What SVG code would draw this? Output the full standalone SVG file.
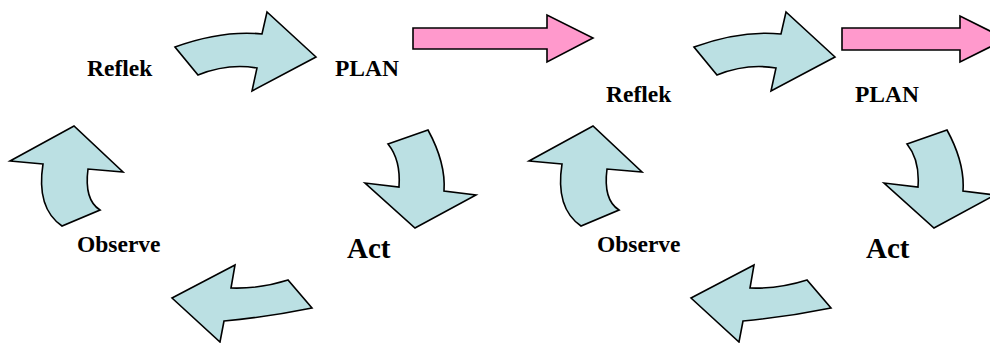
<svg xmlns="http://www.w3.org/2000/svg" xmlns:xlink="http://www.w3.org/1999/xlink" width="990" height="343" viewBox="0 0 990 343">
<style>
.lbl{font-family:"Liberation Serif","Times New Roman",serif;font-weight:bold;fill:#000;}
.s{font-size:23.5px;}
.b{font-size:29px;}
.cyc{fill:#BBE0E3;stroke:#000;stroke-width:1.6;stroke-linejoin:miter;}
.pink{fill:#FF99CC;stroke:#000;stroke-width:1.6;}
</style>
<defs>
<path id="aTop" d="M175,47 Q222,30 262,34 L267,12 L316,57 L252,91 L257,68 Q228,63 198,75 Z"/>
<path id="aUp" d="M43,164 L10,161 L74,126 L123,172 L88,169 Q84,200 100,210 L62,226 Q36,208 43,164 Z"/>
<path id="aDown" d="M388,144 L428,130 Q446,163 444,191 L476,195 L415,228 L365,183 L399,187 Q401,160 388,144 Z"/>
<path id="aBot" d="M172,298 L235,265 L231,288 Q260,289 288,280 L312,308 Q268,317 224,321 L220,342 Z"/>
</defs>
<g id="connectors">
<use xlink:href="#aTop" href="#aTop" class="cyc"/>
<use xlink:href="#aDown" href="#aDown" class="cyc"/>
<use xlink:href="#aBot" href="#aBot" class="cyc"/>
<use xlink:href="#aUp" href="#aUp" class="cyc"/>
<path class="pink" d="M413,28 L547,28 L547,15 L593,38 L547,62 L547,49 L413,49 Z"/>
<g transform="translate(519,0)">
<use xlink:href="#aTop" href="#aTop" class="cyc"/>
<use xlink:href="#aDown" href="#aDown" class="cyc"/>
<use xlink:href="#aBot" href="#aBot" class="cyc"/>
<use xlink:href="#aUp" href="#aUp" class="cyc"/>
</g>
<path class="pink" d="M842,28 L960,28 L960,16 L1006,39 L960,62 L960,50 L842,50 Z"/>
</g>
<g id="reflek1"><text class="lbl s" x="87" y="76">Reflek</text></g>
<g id="plan1"><text class="lbl s" x="335" y="76">PLAN</text></g>
<g id="observe1"><text class="lbl s" x="77" y="252">Observe</text></g>
<g id="act1"><text class="lbl b" x="347" y="258">Act</text></g>
<g id="reflek2"><text class="lbl s" x="606" y="102">Reflek</text></g>
<g id="plan2"><text class="lbl s" x="855" y="102">PLAN</text></g>
<g id="observe2"><text class="lbl s" x="597" y="252">Observe</text></g>
<g id="act2"><text class="lbl b" x="866" y="258">Act</text></g>
</svg>
